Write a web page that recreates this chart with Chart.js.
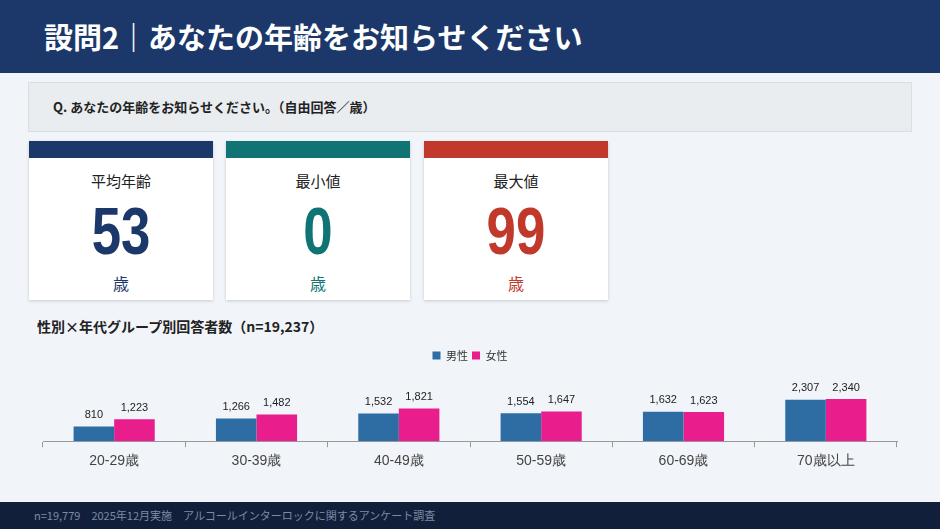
<!DOCTYPE html>
<html><head><meta charset="utf-8">
<script src="https://cdn.jsdelivr.net/npm/chart.js@4"></script>
<style>
body{margin:0;width:940px;height:529px;background:#f1f4f9;font-family:"Noto Sans CJK JP",sans-serif;position:relative;overflow:hidden}
.hd{position:absolute;left:0;top:0;width:940px;height:73px;background:#1c386a;color:#fff;font-size:29px;font-weight:bold;line-height:73px;padding-left:44px;box-sizing:border-box}
.q{position:absolute;left:28px;top:82px;width:884px;height:50px;background:#e9edf0;border:1px solid #d9dee3;box-sizing:border-box;font-size:13px;line-height:48px;padding-left:24px;color:#222;font-weight:bold}
.card{position:absolute;top:141px;width:184px;height:159px;background:#fff;box-shadow:0 1px 3px rgba(0,0,0,.18);text-align:center}
.card .bar{height:17px}
.card .t{font-size:15px;color:#222;margin-top:12px}
.card .n{font-family:"Liberation Sans",sans-serif;font-size:66px;font-weight:bold;line-height:68px;margin-top:6px;transform:scaleX(0.8)}
.card .u{font-size:16px;margin-top:6px}
.st{position:absolute;left:37px;top:316px;font-size:14px;font-weight:bold;color:#222}
.ft{position:absolute;left:0;top:502px;width:940px;height:27px;background:#111f3a;color:#7d8aa5;font-size:11px;line-height:27px;padding-left:34px;box-sizing:border-box}
#wrap{position:absolute;left:41px;top:342px;width:858px;height:134px}
</style></head><body>
<div class="hd">設問2｜あなたの年齢をお知らせください</div>
<div class="q">Q. あなたの年齢をお知らせください。（自由回答／歳）</div>
<div class="card" style="left:29px"><div class="bar" style="background:#1c386a"></div><div class="t">平均年齢</div><div class="n" style="color:#1c386a">53</div><div class="u" style="color:#1c386a">歳</div></div>
<div class="card" style="left:226px"><div class="bar" style="background:#0f7473"></div><div class="t">最小値</div><div class="n" style="color:#0f7473">0</div><div class="u" style="color:#0f7473">歳</div></div>
<div class="card" style="left:424px"><div class="bar" style="background:#c0392b"></div><div class="t">最大値</div><div class="n" style="color:#c0392b">99</div><div class="u" style="color:#c0392b">歳</div></div>
<div class="st">性別×年代グループ別回答者数（n=19,237）</div>
<div id="wrap"><canvas id="c"></canvas></div>
<div class="ft">n=19,779　2025年12月実施　アルコールインターロックに関するアンケート調査</div>
<script>
const categories = ['20-29歳','30-39歳','40-49歳','50-59歳','60-69歳','70歳以上'];
const male = [810,1266,1532,1554,1632,2307];
const female = [1223,1482,1821,1647,1623,2340];

const valueLabels = {
  id: 'valueLabels',
  afterDatasetsDraw(chart) {
    const ctx = chart.ctx;
    ctx.save();
    ctx.font = '11px "Liberation Sans", sans-serif';
    ctx.fillStyle = '#222';
    ctx.textAlign = 'center';
    ctx.textBaseline = 'bottom';
    chart.data.datasets.forEach((ds, i) => {
      chart.getDatasetMeta(i).data.forEach((bar, j) => {
        ctx.fillText(ds.data[j].toLocaleString('en-US'), bar.x, bar.y - 6);
      });
    });
    ctx.restore();
  }
};

new Chart(document.getElementById('c'), {
  type: 'bar',
  data: {
    labels: categories,
    datasets: [
      {label: '男性', data: male, backgroundColor: '#2e6ca4'},
      {label: '女性', data: female, backgroundColor: '#e91e8c'}
    ]
  },
  options: {
    responsive: true,
    maintainAspectRatio: false,
    animation: false,
    layout: {padding: {left: 2, right: 2, top: 4}},
    categoryPercentage: 0.57,
    barPercentage: 1,
    plugins: {
      legend: {
        labels: {boxWidth: 8, boxHeight: 8, font: {size: 11, family: '"Noto Sans CJK JP"'}, color: '#333', padding: 4}
      },
      tooltip: {enabled: false}
    },
    scales: {
      x: {
        grid: {display: true, drawOnChartArea: false, drawTicks: true, tickLength: 6, color: '#999'},
        border: {color: '#999'},
        ticks: {color: '#444', font: {size: 14, family: '"Liberation Sans", sans-serif'}, padding: 6}
      },
      y: {display: false, beginAtZero: true, max: 3900}
    }
  },
  plugins: [valueLabels]
});
</script>
</body></html>
